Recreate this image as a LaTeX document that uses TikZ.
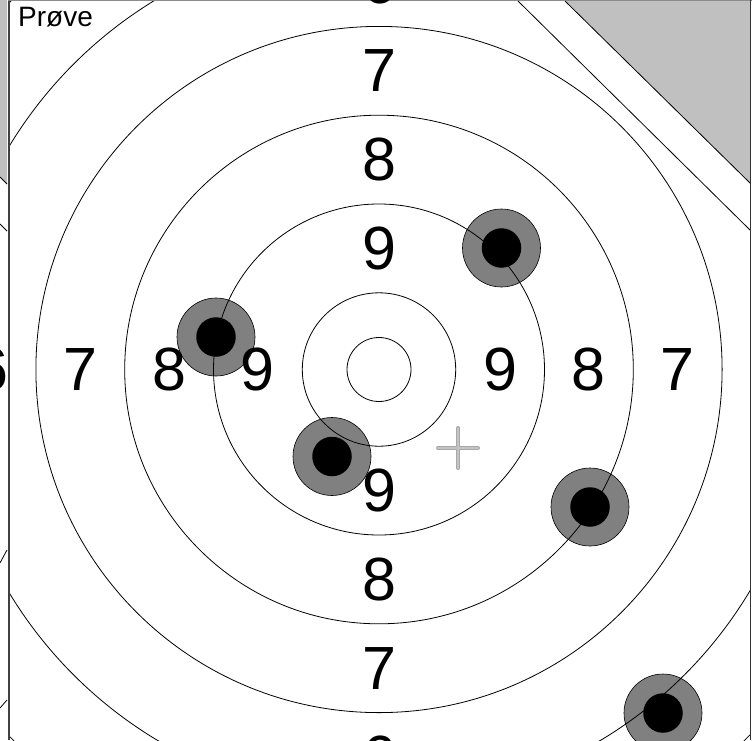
\documentclass[tikz,border=0pt]{standalone}
\usepackage{fontspec}
\setmainfont{Liberation Sans}
\definecolor{stripgray}{HTML}{C0C0C0}
\definecolor{shotgray}{HTML}{808080}
\definecolor{crossgray}{HTML}{A8A8A8}
\definecolor{crosslight}{HTML}{C4C4C4}
\begin{document}
\begin{tikzpicture}[x=1pt,y=-1pt,
  ring/.style={draw=black,line width=0.8pt},
  shotouter/.style={circle,draw=black,line width=0.6pt,fill=shotgray,minimum size=78pt,inner sep=0pt},
  shotinner/.style={circle,fill=black,minimum size=39.5pt,inner sep=0pt},
  lbl/.style={inner sep=0pt,font=\fontsize{61}{61}\selectfont},
  strip/.style={fill=stripgray},
  framel/.style={draw=black!75,line width=2pt}]
\useasboundingbox (0,0) rectangle (752,740);
\fill[white] (0,0) rectangle (752,740);
\coordinate (c) at (379,369.5);
% neighbouring panel strip at the left
\fill[strip] (0,0) -- (7,0) -- (7,184) -- (0,177) -- cycle;
\coordinate (n1a) at (0,177); \coordinate (n1b) at (7,184);
\coordinate (n2a) at (0,224); \coordinate (n2b) at (7,231);
\coordinate (n3a) at (0,563); \coordinate (n3b) at (7,550);
\coordinate (n4a) at (0,708); \coordinate (n4b) at (7,700);
\draw[ring] (n1a) -- (n1b);
\draw[ring] (n2a) -- (n2b);
\draw[ring] (n3a) -- (n3b);
\draw[ring] (n4a) -- (n4b);
% shots
\node[shotouter] (s1) at (501.5,248) {};
\node[shotouter] (s2) at (216,337) {};
\node[shotouter] (s3) at (332,456.5) {};
\node[shotouter] (s4) at (590,507) {};
\node[shotouter] (s5) at (663,713) {};
\node[shotinner] (b1) at (s1) {};
\node[shotinner] (b2) at (s2) {};
\node[shotinner] (b3) at (s3) {};
\node[shotinner] (b4) at (s4) {};
\node[shotinner] (b5) at (s5) {};
% rings
\begin{scope}
\clip (9,1) rectangle (750,740);
\foreach \r in {32,76.7,165.5,254.3,343.1,431.9,520.7}
  \draw[ring] (c) circle[radius=\r];
\coordinate (d1a) at (518,1); \coordinate (d1b) at (750,230);
\coordinate (d2a) at (565,1); \coordinate (d2b) at (750,183);
\fill[white] (d1a) -- (750,1) -- (d1b) -- cycle;
\draw[ring] (d1a) -- (d1b);
\fill[strip] (d2a) -- (750,1) -- (d2b) -- cycle;
\draw[ring] (d2a) -- (d2b);
\end{scope}
% frame
\draw[framel] (8.8,0) -- (8.8,740);
\draw[draw=black!45,line width=1.2pt] (8,0.6) -- (752,0.6);
\draw[draw=black!80,line width=1pt] (750,0) -- (750,740);
% cross
\coordinate (xc) at (458,448);
\draw[crossgray,line width=4pt,line cap=round] ([xshift=-20pt]xc) -- ([xshift=20pt]xc) ([yshift=-20pt]xc) -- ([yshift=20pt]xc);
\draw[crosslight,line width=2pt,line cap=round] ([xshift=-20pt]xc) -- ([xshift=20pt]xc) ([yshift=-20pt]xc) -- ([yshift=20pt]xc);
% labels
\node[lbl] (t9) at (379,{369.5-121.1}) {9};
\node[lbl] (t8) at (379,{369.5-209.9}) {8};
\node[lbl] (t7) at (379,{369.5-298.7}) {7};
\node[lbl] (t6) at (379,{369.5-387.5}) {6};
\node[lbl] (u9) at (379,{369.5+121.1}) {9};
\node[lbl] (u8) at (379,{369.5+209.9}) {8};
\node[lbl] (u7) at (379,{369.5+298.7}) {7};
\node[lbl] (u6) at (379,{369.5+387.5}) {6};
\node[lbl] (l9) at ({379-121.1},369.5) {9};
\node[lbl] (l8) at ({379-209.9},369.5) {8};
\node[lbl] (l7) at ({379-298.7},369.5) {7};
\node[lbl] (l6) at ({379-387.5},369.5) {6};
\node[lbl] (r9) at ({379+121.1},369.5) {9};
\node[lbl] (r8) at ({379+209.9},369.5) {8};
\node[lbl] (r7) at ({379+298.7},369.5) {7};
\node[anchor=base west,inner sep=0pt,font=\fontsize{28}{28}\selectfont] (title) at (18,26) {Prøve};
\end{tikzpicture}
\end{document}
